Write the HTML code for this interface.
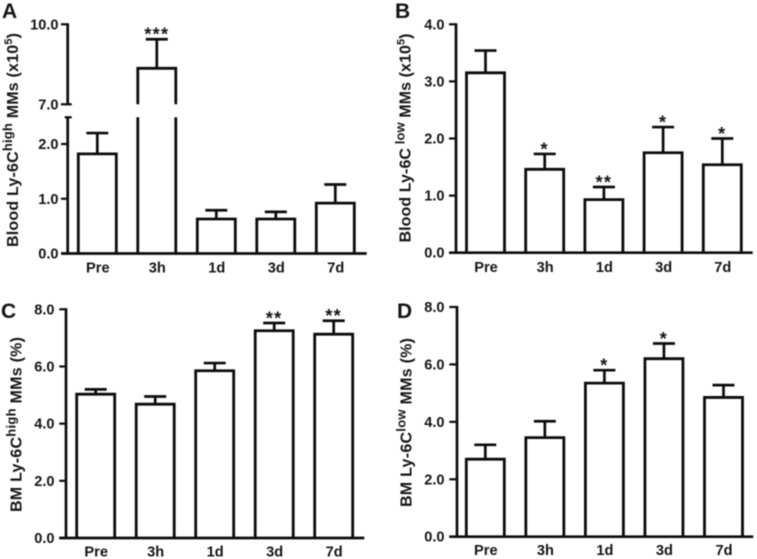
<!DOCTYPE html>
<html lang="en">
<head>
<meta charset="utf-8">
<title>Ly-6C monocyte panels</title>
<style>
html,body{margin:0;padding:0;background:#fff;width:757px;height:559px;overflow:hidden}
svg{display:block;filter:blur(0.45px)}
text{font-family:"Liberation Sans",Arial,sans-serif;font-weight:bold;fill:#141414}
</style>
</head>
<body>
<svg id="figure" xmlns="http://www.w3.org/2000/svg" width="757" height="559" viewBox="0 0 757 559"></svg>
<script>
const categories = ['Pre', '3h', '1d', '3d', '7d'];

const valuesA = [1.82, 8.35, 0.63, 0.63, 0.92];
const errorTopsA = [2.2, 9.44, 0.79, 0.76, 1.26];
const starsA = ['', '***', '', '', ''];
const ticksA = [0, 1, 2, 7, 10];
const tickLabelsA = ['0.0', '1.0', '2.0', '7.0', '10.0'];

const valuesB = [3.15, 1.46, 0.93, 1.75, 1.54];
const errorTopsB = [3.54, 1.73, 1.15, 2.2, 2.0];
const starsB = ['', '*', '**', '*', '*'];
const ticksB = [0, 1, 2, 3, 4];
const tickLabelsB = ['0.0', '1.0', '2.0', '3.0', '4.0'];

const valuesC = [5.03, 4.68, 5.85, 7.25, 7.13];
const errorTopsC = [5.2, 4.95, 6.12, 7.52, 7.6];
const starsC = ['', '', '', '**', '**'];
const ticksC = [0, 2, 4, 6, 8];
const tickLabelsC = ['0.0', '2.0', '4.0', '6.0', '8.0'];

const valuesD = [2.7, 3.45, 5.35, 6.2, 4.85];
const errorTopsD = [3.2, 4.02, 5.8, 6.73, 5.28];
const starsD = ['', '', '*', '*', ''];
const ticksD = [0, 2, 4, 6, 8];
const tickLabelsD = ['0.0', '2.0', '4.0', '6.0', '8.0'];

const NS = 'http://www.w3.org/2000/svg';
const INK = '#0c0c0c';
const svg = document.getElementById('figure');

function make(parent, tag, props) {
  const el = document.createElementNS(NS, tag);
  for (const k in props) el.setAttribute(k, props[k]);
  parent.appendChild(el);
  return el;
}

function line(parent, x1, y1, x2, y2, width) {
  return make(parent, 'line', {x1: x1, y1: y1, x2: x2, y2: y2, stroke: INK, 'stroke-width': width || 2.7});
}

function drawPanel(p) {
  const g = make(svg, 'g', {});
  
  

  const y = p.scale;
  const top = p.yTop;
  const xCenter = function (i) { return p.firstCenter + i * p.step; };

  const letter = make(g, 'text', {x: p.letterX, y: p.letterY, 'font-size': 21});
  letter.textContent = p.letter;
  
  

  // axes
  const yAxis = make(g, 'path', {
    d: p.breakLow === undefined
      ? 'M' + p.axisX + ' ' + (p.base + 1) + 'V' + (top - 1)
      : 'M' + p.axisX + ' ' + (p.base + 1) + 'V' + p.breakLow + 'M' + p.axisX + ' ' + p.breakHigh + 'V' + (top - 1),
    fill: 'none', stroke: INK, 'stroke-width': 2.7
  });
  
  

  const xAxis = line(g, p.axisLeft, p.base, p.axisRight, p.base, 2.7);
  
  

  if (p.breakLow !== undefined) {
    const cap = line(g, p.axisX - 3, p.breakLow, p.axisX + 4, p.breakLow, 2.2);
    
    
  }

  // ticks
  p.ticks.forEach(function (t, i) {
    const tick = line(g, p.axisLeft, y(t), p.axisX + (t === 7 ? 4 : 0), y(t), 2.2);
    
    
    const lab = make(g, 'text', {x: p.labelRight, y: y(t) + 5, 'font-size': 14.6, 'text-anchor': 'end'});
    lab.textContent = p.tickLabels[i];
    
    
  });

  // bars
  categories.forEach(function (c, i) {
    const cx = xCenter(i);
    const yv = y(p.values[i]);
    const ye = y(p.errorTops[i]);
    const halfW = 19;
    const high = p.breakLow !== undefined && p.values[i] >= 7;
    const d = high
      ? 'M' + (cx - halfW) + ' ' + p.base + 'V' + p.breakLow + 'M' + (cx - halfW) + ' ' + p.breakHigh + 'V' + yv + 'H' + (cx + halfW) + 'V' + p.breakHigh + 'M' + (cx + halfW) + ' ' + p.breakLow + 'V' + p.base
      : 'M' + (cx - halfW) + ' ' + p.base + 'V' + yv + 'H' + (cx + halfW) + 'V' + p.base;
    const bar = make(g, 'path', {d: d, fill: 'none', stroke: INK, 'stroke-width': 2.8});
    
    

    const stem = line(g, cx, yv, cx, ye, 2.7);
    
    
    const capLine = line(g, cx - 11, ye, cx + 11, ye, 2.7);
    
    

    if (p.stars[i]) {
      const star = make(g, 'text', {x: cx, y: ye + 1.5, 'font-size': 18, 'letter-spacing': 1.3, 'text-anchor': 'middle'});
      star.textContent = p.stars[i];
      
      
    }

    const lab = make(g, 'text', {x: cx + 0.5, y: p.catY, 'font-size': 14.6, 'text-anchor': 'middle'});
    lab.textContent = c;
    
    
  });

  // y title
  const title = make(g, 'text', {
    transform: 'translate(' + p.titleX + ' ' + p.titleY + ') rotate(-90)',
    'font-size': 16, textLength: p.titleLen, lengthAdjust: 'spacing'
  });
  
  
  const a = make(title, 'tspan', {});
  a.textContent = p.titleA;
  const s = make(title, 'tspan', {dy: -6, 'font-size': 13});
  s.textContent = p.titleSup;
  const b = make(title, 'tspan', {dy: 6});
  b.textContent = p.titleB;
  if (p.titleExp) {
    const e = make(title, 'tspan', {dy: -6, 'font-size': 11});
    e.textContent = p.titleExp;
    const f = make(title, 'tspan', {dy: 6});
    f.textContent = ')';
  }
}

function linear(base, top, max) {
  return function (v) { return base - (base - top) * v / max; };
}

function brokenA(v) {
  return v <= 2.5 ? 253.5 - 54.75 * v : 104.3 - 26.67 * (v - 7);
}

drawPanel({
  letter: 'A', letterX: 2, letterY: 18,
  values: valuesA, errorTops: errorTopsA, stars: starsA, ticks: ticksA, tickLabels: tickLabelsA,
  scale: brokenA, base: 253.5, yTop: 24.3, breakLow: 117.3, breakHigh: 104.3,
  axisX: 67.7, axisLeft: 61, axisRight: 366.7, labelRight: 58.5,
  firstCenter: 97.3, step: 59.5, catY: 272.5,
  titleX: 18, titleY: 247, titleLen: 214,
  titleA: 'Blood Ly-6C', titleSup: 'high', titleB: ' MMs (x10', titleExp: '5'
});
drawPanel({
  letter: 'B', letterX: 395, letterY: 18,
  values: valuesB, errorTops: errorTopsB, stars: starsB, ticks: ticksB, tickLabels: tickLabelsB,
  scale: linear(252.7, 24.3, 4), base: 252.7, yTop: 24.3,
  axisX: 456, axisLeft: 449, axisRight: 752.7, labelRight: 444.5,
  firstCenter: 485.5, step: 59.2, catY: 272,
  titleX: 410.7, titleY: 242.5, titleLen: 209,
  titleA: 'Blood Ly-6C', titleSup: ' low', titleB: ' MMs (x10', titleExp: '5'
});
drawPanel({
  letter: 'C', letterX: 1, letterY: 318,
  values: valuesC, errorTops: errorTopsC, stars: starsC, ticks: ticksC, tickLabels: tickLabelsC,
  scale: linear(538, 309.3, 8), base: 538, yTop: 309.3,
  axisX: 66, axisLeft: 59.3, axisRight: 364.3, labelRight: 54.5,
  firstCenter: 95.7, step: 59.5, catY: 556.5,
  titleX: 21.7, titleY: 512, titleLen: 175,
  titleA: 'BM Ly-6C', titleSup: 'high', titleB: ' MMs (%)', titleExp: ''
});
drawPanel({
  letter: 'D', letterX: 397, letterY: 318,
  values: valuesD, errorTops: errorTopsD, stars: starsD, ticks: ticksD, tickLabels: tickLabelsD,
  scale: linear(536.7, 307, 8), base: 536.7, yTop: 307,
  axisX: 457, axisLeft: 449.3, axisRight: 753.3, labelRight: 444.5,
  firstCenter: 485.3, step: 59.55, catY: 555,
  titleX: 411.7, titleY: 507, titleLen: 169,
  titleA: 'BM Ly-6C', titleSup: 'low', titleB: ' MMs (%)', titleExp: ''
});
</script>
</body>
</html>
